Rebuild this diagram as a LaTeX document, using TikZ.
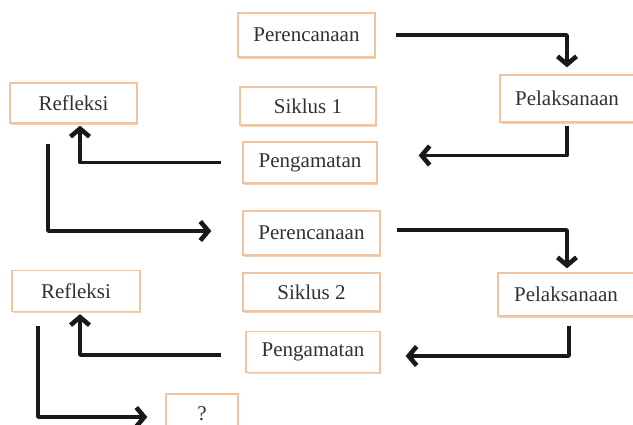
\documentclass[tikz,border=0pt]{standalone}
\usepackage{fontspec}
\setmainfont{Liberation Serif}
\usetikzlibrary{calc,arrows.meta,shadows}
\definecolor{boxline}{RGB}{243,196,156}
\definecolor{boxshade}{RGB}{238,172,120}
\definecolor{txt}{RGB}{50,50,50}
\tikzset{
  stagebox/.style={draw=boxline, line width=1.3pt, fill=white, rectangle,
    inner sep=0pt, text=txt, font=\fontsize{21}{23}\selectfont,
    drop shadow={shadow xshift=1.2pt, shadow yshift=-1.6pt, fill=boxshade, opacity=0.55}},
  flow/.style={line width=3.6pt, black!90, line join=round,
    -{Straight Barb[length=8pt,width=19pt,line width=4.6pt]}}
}
\begin{document}
\begin{tikzpicture}[x=1pt,y=-1pt]
\useasboundingbox (0,0) rectangle (633,425);
\clip (0,0) rectangle (633,425);
\fill[white] (0,0) rectangle (633,425);
% cycle 1
\node[stagebox, minimum width=137pt, minimum height=44pt] (P1) at (306.5,35) {Perencanaan};
\node[stagebox, minimum width=136pt, minimum height=38pt] (S1) at (308,106) {Siklus 1};
\node[stagebox, minimum width=134pt, minimum height=41pt] (G1) at (310,162.5) {Pengamatan};
\node[stagebox, minimum width=127pt, minimum height=40pt] (R1) at (73.5,103) {Refleksi};
\node[stagebox, minimum width=134pt, minimum height=47pt] (L1) at (567,98.5) {Pelaksanaan};
% cycle 2
\node[stagebox, minimum width=137pt, minimum height=44pt] (P2) at (311.5,233) {Perencanaan};
\node[stagebox, minimum width=137pt, minimum height=38pt] (S2) at (311.5,292) {Siklus 2};
\node[stagebox, minimum width=134pt, minimum height=41pt] (G2) at (313,352) {Pengamatan};
\node[stagebox, minimum width=128pt, minimum height=41pt] (R2) at (76,291) {Refleksi};
\node[stagebox, minimum width=136pt, minimum height=43pt] (L2) at (566,294.5) {Pelaksanaan};
\node[stagebox, minimum width=72pt, minimum height=40pt] (Q) at (202,414) {?};
% connectors
\draw[flow] ($(P1.east)+(20,0)$) -| ($(L1.north)+(0,-7)$);
\draw[flow] ($(L1.south)+(0,3)$) |- ($(G1.east)+(41,-7)$);
\draw[flow] ($(G1.west)+(-21,0)$) -| ($(R1.south)+(6.5,2)$);
\draw[flow] ($(R1.south)+(-25.5,20)$) |- ($(P2.west)+(-31,-2)$);
\draw[flow] ($(P2.east)+(16,-3)$) -| ($(L2.north)+(1,-4)$);
\draw[flow] ($(L2.south)+(3,9)$) |- ($(G2.east)+(25,4)$);
\draw[flow] ($(G2.west)+(-24,3)$) -| ($(R2.south)+(4,2)$);
\draw[flow] ($(R2.south)+(-38,14)$) |- ($(Q.west)+(-18,3)$);
\end{tikzpicture}
\end{document}
